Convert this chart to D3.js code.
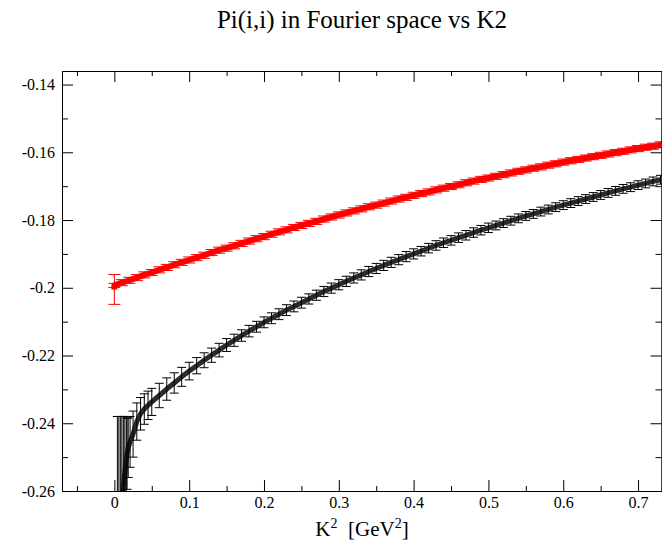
<!DOCTYPE html>
<html><head><meta charset="utf-8">
<script src="https://cdn.jsdelivr.net/npm/d3@7"></script>
<style>
body{margin:0;background:#fff}
svg{display:block}
text{font-family:"Liberation Serif","Times New Roman",serif;fill:#000}
</style>
</head><body>
<svg id="chart" width="662" height="541"></svg>
<script>
const titleText = "Pi(i,i) in Fourier space vs K2";
const xTicks = [0, 0.1, 0.2, 0.3, 0.4, 0.5, 0.6, 0.7];
const xTickLabels = ["0", "0.1", "0.2", "0.3", "0.4", "0.5", "0.6", "0.7"];
const xMinor = [-0.05, 0.05, 0.15, 0.25, 0.35, 0.45, 0.55, 0.65];
const yTicks = [-0.26, -0.24, -0.22, -0.2, -0.18, -0.16, -0.14];
const yTickLabels = ["-0.26", "-0.24", "-0.22", "-0.2", "-0.18", "-0.16", "-0.14"];
const yMinor = [-0.25, -0.23, -0.21, -0.19, -0.17, -0.15];

const redK2 = [0, 0, 0.01, 0.02, 0.03, 0.04, 0.05, 0.06, 0.07, 0.08, 0.09, 0.10,
  0.11, 0.12, 0.13, 0.14, 0.15, 0.16, 0.17, 0.18, 0.19, 0.20,
  0.21, 0.22, 0.23, 0.24, 0.25, 0.26, 0.27, 0.28, 0.29, 0.30,
  0.31, 0.32, 0.33, 0.34, 0.35, 0.36, 0.37, 0.38, 0.39, 0.40,
  0.41, 0.42, 0.43, 0.44, 0.45, 0.46, 0.47, 0.48, 0.49, 0.50,
  0.51, 0.52, 0.53, 0.54, 0.55, 0.56, 0.57, 0.58, 0.59, 0.60,
  0.61, 0.62, 0.63, 0.64, 0.65, 0.66, 0.67, 0.68, 0.69, 0.70,
  0.71, 0.72, 0.73];
const redVal = [-0.2005, -0.1993, -0.1985, -0.1978, -0.1970, -0.1962, -0.1955, -0.1947, -0.1940, -0.1932, -0.1925, -0.1918,
  -0.1911, -0.1904, -0.1896, -0.1889, -0.1883, -0.1876, -0.1869, -0.1862, -0.1855, -0.1849,
  -0.1842, -0.1835, -0.1829, -0.1822, -0.1816, -0.1810, -0.1804, -0.1797, -0.1791, -0.1785,
  -0.1779, -0.1773, -0.1767, -0.1761, -0.1756, -0.1750, -0.1744, -0.1738, -0.1733, -0.1727,
  -0.1722, -0.1717, -0.1711, -0.1706, -0.1701, -0.1696, -0.1690, -0.1685, -0.1680, -0.1676,
  -0.1671, -0.1666, -0.1661, -0.1656, -0.1652, -0.1647, -0.1643, -0.1638, -0.1634, -0.1629,
  -0.1625, -0.1621, -0.1617, -0.1613, -0.1609, -0.1605, -0.1601, -0.1597, -0.1593, -0.1589,
  -0.1585, -0.1582, -0.1578];
const redErr = [0.0044, 0.0006, 0.0009, 0.0009, 0.0009, 0.0009, 0.0009, 0.0009, 0.0009, 0.0009, 0.0009, 0.0009,
  0.0009, 0.0009, 0.0009, 0.0009, 0.0009, 0.0009, 0.0009, 0.0009, 0.0009, 0.0009,
  0.0009, 0.0009, 0.0009, 0.0009, 0.0009, 0.0009, 0.0009, 0.0009, 0.0009, 0.0009,
  0.0009, 0.0009, 0.0009, 0.0009, 0.0009, 0.0009, 0.0009, 0.0009, 0.0009, 0.0009,
  0.0009, 0.0009, 0.0009, 0.0009, 0.0009, 0.0009, 0.0009, 0.0009, 0.0009, 0.0009,
  0.0009, 0.0009, 0.0009, 0.0009, 0.0009, 0.0009, 0.0009, 0.0009, 0.0009, 0.0009,
  0.0009, 0.0009, 0.0009, 0.0009, 0.0009, 0.0009, 0.0009, 0.0009, 0.0009, 0.0009,
  0.0009, 0.0009, 0.0009];

const blackK2 = [0.004, 0.006, 0.008, 0.010, 0.012, 0.014, 0.016, 0.017, 0.0185, 0.021, 0.025,
  0.03, 0.035, 0.04, 0.045, 0.05, 0.06, 0.07, 0.08, 0.09, 0.10,
  0.11, 0.12, 0.13, 0.14, 0.15, 0.16, 0.17, 0.18, 0.19, 0.20,
  0.21, 0.22, 0.23, 0.24, 0.25, 0.26, 0.27, 0.28, 0.29, 0.30,
  0.31, 0.32, 0.33, 0.34, 0.35, 0.36, 0.37, 0.38, 0.39, 0.40,
  0.41, 0.42, 0.43, 0.44, 0.45, 0.46, 0.47, 0.48, 0.49, 0.50,
  0.51, 0.52, 0.53, 0.54, 0.55, 0.56, 0.57, 0.58, 0.59, 0.60,
  0.61, 0.62, 0.63, 0.64, 0.65, 0.66, 0.67, 0.68, 0.69, 0.70,
  0.71, 0.72, 0.73];
const blackVal = [-0.2840, -0.2745, -0.2675, -0.2625, -0.2590, -0.2545, -0.2505, -0.2490, -0.2472, -0.2455, -0.2432,
  -0.2395, -0.2372, -0.2358, -0.2347, -0.2337, -0.2318, -0.2299, -0.2281, -0.2263, -0.2246,
  -0.2230, -0.2214, -0.2199, -0.2184, -0.2169, -0.2155, -0.2141, -0.2128, -0.2115, -0.2102,
  -0.2090, -0.2078, -0.2066, -0.2055, -0.2044, -0.2033, -0.2022, -0.2011, -0.2001, -0.1991,
  -0.1981, -0.1971, -0.1962, -0.1952, -0.1943, -0.1934, -0.1925, -0.1917, -0.1908, -0.1900,
  -0.1892, -0.1883, -0.1875, -0.1867, -0.1860, -0.1852, -0.1845, -0.1837, -0.1830, -0.1823,
  -0.1816, -0.1809, -0.1802, -0.1795, -0.1788, -0.1782, -0.1775, -0.1769, -0.1762, -0.1756,
  -0.1750, -0.1744, -0.1738, -0.1732, -0.1726, -0.1720, -0.1714, -0.1708, -0.1703, -0.1697,
  -0.1692, -0.1686, -0.1681];
const blackErr = [0.0460, 0.0365, 0.0295, 0.0245, 0.0210, 0.0165, 0.0125, 0.0105, 0.0088, 0.0075, 0.0068,
  0.0055, 0.0048, 0.0045, 0.0042, 0.0040, 0.0036, 0.0033, 0.0030, 0.0028, 0.0026,
  0.0024, 0.0022, 0.0021, 0.0020, 0.0019, 0.0018, 0.0017, 0.0017, 0.0016, 0.0016,
  0.0016, 0.0016, 0.0016, 0.0016, 0.0016, 0.0015, 0.0015, 0.0015, 0.0015, 0.0015,
  0.0015, 0.0015, 0.0015, 0.0015, 0.0015, 0.0015, 0.0015, 0.0015, 0.0015, 0.0015,
  0.0014, 0.0014, 0.0014, 0.0014, 0.0014, 0.0014, 0.0014, 0.0014, 0.0014, 0.0014,
  0.0013, 0.0013, 0.0013, 0.0013, 0.0013, 0.0013, 0.0013, 0.0013, 0.0013, 0.0013,
  0.0013, 0.0013, 0.0013, 0.0013, 0.0013, 0.0013, 0.0013, 0.0013, 0.0013, 0.0013,
  0.0013, 0.0013, 0.0013];

const svg = d3.select("#chart");
const L = 62, R = 662, T = 71, B = 491;
const x = d3.scaleLinear().domain([-0.07, 0.732]).range([L, R]);
const y = d3.scaleLinear().domain([-0.26, -0.136]).range([B, T]);

svg.append("defs").append("clipPath").attr("id", "plotclip")
  .append("rect").attr("x", L).attr("y", T).attr("width", R - L).attr("height", B - T);

// title
svg.append("text").attr("x", (L + R) / 2).attr("y", 28).attr("text-anchor", "middle")
  .style("font-size", "25px").text(titleText);

// data
const plot = svg.append("g").attr("clip-path", "url(#plotclip)");
function series(k2, val, err, color, lineW, lineColor, capW) {
  const pts = k2.map((k, i) => ({k: k, v: val[i], e: err[i]}));
  const line = d3.line().x(d => x(d.k)).y(d => y(d.v));
  plot.append("path").datum(pts).attr("d", line).attr("fill", "none")
    .attr("stroke", lineColor).attr("stroke-width", lineW).attr("stroke-linejoin", "round");
  const g = plot.append("g").attr("stroke", color).attr("stroke-width", 1).attr("fill", "none");
  pts.forEach(d => {
    const cx = x(d.k), y1 = y(d.v + d.e), y2 = y(d.v - d.e);
    g.append("line").attr("x1", cx).attr("x2", cx).attr("y1", y1).attr("y2", y2);
    g.append("line").attr("x1", cx - capW / 2).attr("x2", cx + capW / 2).attr("y1", y1).attr("y2", y1);
    g.append("line").attr("x1", cx - capW / 2).attr("x2", cx + capW / 2).attr("y1", y2).attr("y2", y2);
  });
}
series(blackK2, blackVal, blackErr, "#000", 5, "#2a2a2a", 9);
series(redK2, redVal, redErr, "#ff0000", 6, "#ff0000", 12);

// axes
const axB = d3.axisBottom(x).tickValues(xTicks).tickSize(-11).tickSizeOuter(0).tickPadding(6)
  .tickFormat((d, i) => xTickLabels[i]);
const axT = d3.axisTop(x).tickValues(xTicks).tickSize(-11).tickSizeOuter(0).tickFormat("");
const axL = d3.axisLeft(y).tickValues(yTicks).tickSize(-11).tickSizeOuter(0).tickPadding(7)
  .tickFormat((d, i) => yTickLabels[i]);
const axR = d3.axisRight(y).tickValues(yTicks).tickSize(-11).tickSizeOuter(0).tickFormat("");
const mB = d3.axisBottom(x).tickValues(xMinor).tickSize(-5).tickSizeOuter(0).tickFormat("");
const mT = d3.axisTop(x).tickValues(xMinor).tickSize(-5).tickSizeOuter(0).tickFormat("");
const mL = d3.axisLeft(y).tickValues(yMinor).tickSize(-6).tickSizeOuter(0).tickFormat("");
const mR = d3.axisRight(y).tickValues(yMinor).tickSize(-6).tickSizeOuter(0).tickFormat("");

function put(ax, tx, ty) {
  const g = svg.append("g").attr("transform", `translate(${tx},${ty})`).call(ax);
  g.selectAll("text").style("font-size", "16px").style("font-family", '"Liberation Serif","Times New Roman",serif');
  g.selectAll("path,line").attr("stroke", "#000");
  return g;
}
put(axB, 0, B); put(axT, 0, T); put(axL, L, 0); put(axR, R - 0.5, 0);
put(mB, 0, B); put(mT, 0, T); put(mL, L, 0); put(mR, R - 0.5, 0);

// x label
const xl = svg.append("text").attr("x", (L + R) / 2).attr("y", 536).attr("text-anchor", "middle")
  .style("font-size", "21px");
xl.append("tspan").text("K");
xl.append("tspan").attr("dy", -8).style("font-size", "14px").text("2");
xl.append("tspan").attr("dy", 8).text("\u00a0\u00a0[GeV");
xl.append("tspan").attr("dy", -8).style("font-size", "14px").text("2");
xl.append("tspan").attr("dy", 8).text("]");
</script>
</body></html>
